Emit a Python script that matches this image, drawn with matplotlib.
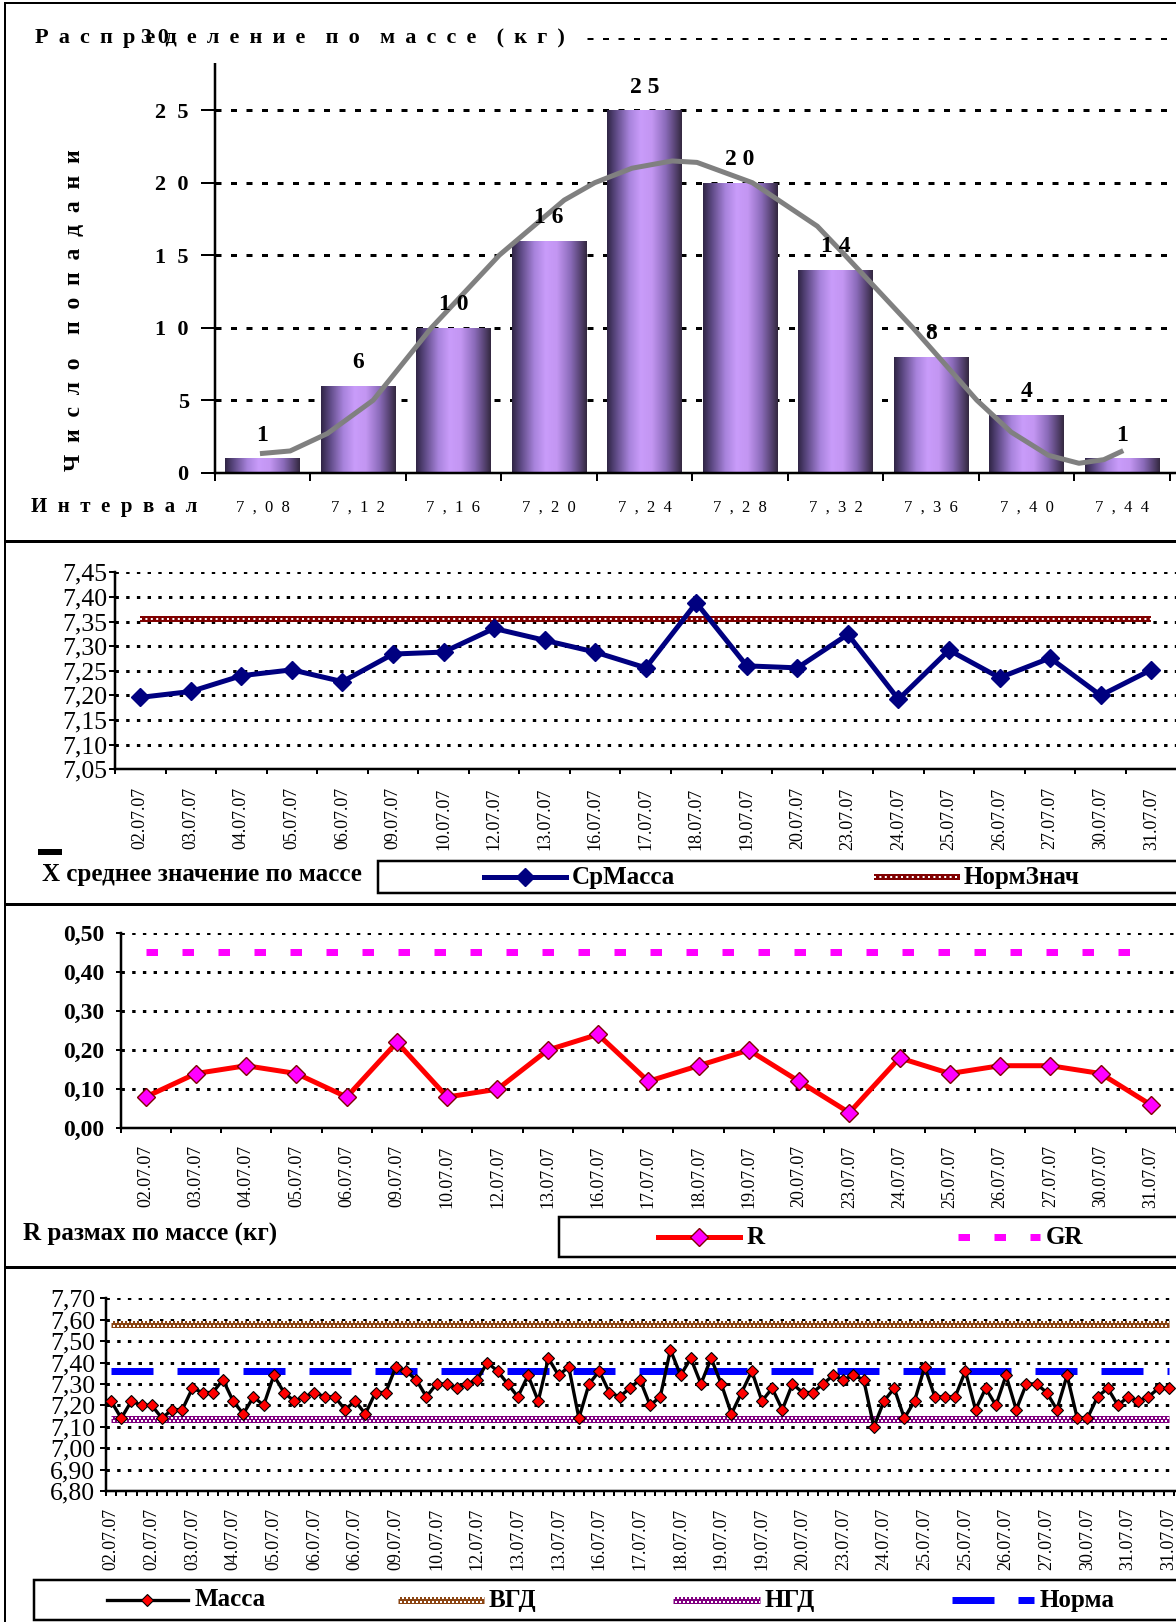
import numpy as np
import matplotlib.pyplot as plt
from matplotlib.colors import LinearSegmentedColormap
from matplotlib.lines import Line2D
from matplotlib.patches import Rectangle
from matplotlib.transforms import offset_copy

plt.rcParams['font.family'] = ['Liberation Serif', 'DejaVu Serif']
plt.rcParams['lines.scale_dashes'] = False

W, H = 1176, 1622
PT = 0.72  # пиксели -> пункты при dpi 100

# ---- данные ----
intervals = ['7,08', '7,12', '7,16', '7,20', '7,24', '7,28', '7,32', '7,36', '7,40', '7,44']
counts = [1, 6, 10, 16, 25, 20, 14, 8, 4, 1]
# сглаженная кривая (позиция в интервалах, значение)
curve_pos = [0.0, 0.29, 0.68, 1.16, 1.77, 2.48, 3.16, 3.48, 3.87, 4.29, 4.55,
             5.13, 5.81, 6.10, 6.81, 7.48, 7.84, 8.23, 8.55, 8.81, 8.99]
curve_val = [1.33, 1.5, 2.7, 5.0, 10.0, 15.0, 18.8, 20.0, 21.0, 21.5, 21.4,
             20.0, 17.0, 15.0, 10.0, 5.0, 2.8, 1.2, 0.65, 0.9, 1.45]

days = ['02.07.07', '03.07.07', '04.07.07', '05.07.07', '06.07.07', '09.07.07',
        '10.07.07', '12.07.07', '13.07.07', '16.07.07', '17.07.07', '18.07.07',
        '19.07.07', '20.07.07', '23.07.07', '24.07.07', '25.07.07', '26.07.07',
        '27.07.07', '30.07.07', '31.07.07']
mean_mass = [7.196, 7.208, 7.24, 7.252, 7.228, 7.284, 7.288, 7.336, 7.312, 7.288, 7.256,
             7.388, 7.26, 7.256, 7.324, 7.192, 7.292, 7.236, 7.276, 7.20, 7.252]
norm_mean = 7.356
r_range = [0.08, 0.14, 0.16, 0.14, 0.08, 0.22, 0.08, 0.10, 0.20, 0.24, 0.12,
           0.16, 0.20, 0.12, 0.04, 0.18, 0.14, 0.16, 0.16, 0.14, 0.06]
gr_value = 0.45

mass = [7.22, 7.14, 7.22, 7.20, 7.20, 7.14, 7.18, 7.18, 7.28, 7.26,
        7.26, 7.32, 7.22, 7.16, 7.24, 7.20, 7.34, 7.26, 7.22, 7.24,
        7.26, 7.24, 7.24, 7.18, 7.22, 7.16, 7.26, 7.26, 7.38, 7.36,
        7.32, 7.24, 7.30, 7.30, 7.28, 7.30, 7.32, 7.40, 7.36, 7.30,
        7.24, 7.34, 7.22, 7.42, 7.34, 7.38, 7.14, 7.30, 7.36, 7.26,
        7.24, 7.28, 7.32, 7.20, 7.24, 7.46, 7.34, 7.42, 7.30, 7.42,
        7.30, 7.16, 7.26, 7.36, 7.22, 7.28, 7.18, 7.30, 7.26, 7.26,
        7.30, 7.34, 7.32, 7.34, 7.32, 7.10, 7.22, 7.28, 7.14, 7.22,
        7.38, 7.24, 7.24, 7.24, 7.36, 7.18, 7.28, 7.20, 7.34, 7.18,
        7.30, 7.30, 7.26, 7.18, 7.34, 7.14, 7.14, 7.24, 7.28, 7.20,
        7.24, 7.22, 7.24, 7.28, 7.28]
per_day = 5
vgd = 7.58
ngd = 7.135
norma = 7.36


def spaced(s, gap=' '):
    # разрядка: слова через двойной промежуток
    return (gap * 2).join(gap.join(w) for w in s.split(' '))


def comma(v):
    return f'{v:.2f}'.replace('.', ',')


fig = plt.figure(figsize=(W / 100, H / 100), dpi=100)


def fx(px):
    return px / W


def fy(py):
    return 1 - py / H


def make_axes(left, right, top, bottom):
    ax = fig.add_axes([fx(left), fy(bottom), (right - left) / W, (bottom - top) / H])
    ax.spines['top'].set_visible(False)
    ax.spines['right'].set_visible(False)
    for s in ('left', 'bottom'):
        ax.spines[s].set_linewidth(2.5 * PT)
    ax.set_axisbelow(True)
    return ax


def grid_lines(ax, values, on, off):
    for v in values:
        ax.axhline(v, color='black', lw=3 * PT, ls=(0, (on * PT, off * PT)), zorder=0.5)


def cat_ticks(ax, n, pos, labels, pad, size, rot, tick_len=5):
    ax.set_xticks(np.arange(-0.5, n, 1), minor=True)
    ax.set_xticks(pos, labels, rotation=rot, fontsize=size)
    ax.tick_params(axis='x', which='major', length=0, pad=pad * PT)
    ax.tick_params(axis='x', which='minor', length=tick_len * PT, width=2 * PT, direction='out')


def checker(add, xs, ys, color, trans, lw=7, zorder=3, cell=2.0):
    add(Line2D(xs, ys, color=color, lw=lw * PT, solid_capstyle='butt',
               transform=trans, zorder=zorder))
    for dy, ph in ((1.75, 0), (-1.75, cell)):
        t = offset_copy(trans, fig=fig, y=dy, units='dots')
        add(Line2D(xs, ys, color='white', lw=2 * PT, transform=t, zorder=zorder,
                   ls=(ph * PT, (cell * PT, cell * PT)), dash_capstyle='butt'))


def chain(add, xs, ys, trans, zorder=3):
    add(Line2D(xs, ys, color='#800000', lw=6 * PT, solid_capstyle='butt',
               transform=trans, zorder=zorder))
    add(Line2D(xs, ys, color='white', lw=2 * PT, transform=trans, zorder=zorder,
               ls=(0, (2 * PT, 3.4 * PT)), dash_capstyle='butt'))


def fig_line(x0, x1, y, **kw):
    fig.add_artist(Line2D([fx(x0), fx(x1)], [fy(y), fy(y)], transform=fig.transFigure, **kw))


def legend_box(x0, y0, x1, y1):
    fig.add_artist(Rectangle((fx(x0), fy(y1)), (x1 - x0) / W, (y1 - y0) / H,
                             transform=fig.transFigure, facecolor='white',
                             edgecolor='black', lw=2.5 * PT, zorder=1))


def ftext(x, y, s, size=17, weight='bold', **kw):
    kw.setdefault('ha', 'left')
    kw.setdefault('va', 'center')
    fig.text(fx(x), fy(y), s, fontsize=size, fontweight=weight, zorder=4, **kw)


# ---------- 1. гистограмма ----------
ax1 = make_axes(214.7, 1176, 37.7, 472.7)
bar_cmap = LinearSegmentedColormap.from_list('bar', [
    (0, '#2f2545'), (0.12, '#5e4a85'), (0.3, '#a883dc'), (0.45, '#c99cfa'),
    (0.6, '#c396f2'), (0.78, '#8c6cbb'), (0.92, '#54416f'), (1, '#33283f')])
grad = np.linspace(0, 1, 256).reshape(1, -1)
for i, c in enumerate(counts):
    ax1.imshow(grad, extent=(i - 0.39, i + 0.39, 0, c), aspect='auto', cmap=bar_cmap,
               zorder=2, interpolation='bilinear')
    ax1.annotate(spaced(str(c)), (i, c), xytext=(0, 9), textcoords='offset points',
                 ha='center', va='bottom', fontsize=17, fontweight='bold', zorder=4)
ax1.plot(curve_pos, curve_val, color='#808080', lw=5 * PT, zorder=3,
         solid_joinstyle='round')
grid_lines(ax1, [5, 10, 15, 20, 25, 30], 6, 9.5)
ax1.set_xlim(-0.5, 9.5 + (1176 - 1169.7) / 95.5)
ax1.set_ylim(0, 30)
cat_ticks(ax1, len(counts), range(len(counts)), [spaced(s, '  ') for s in intervals],
          27, 12, 0, tick_len=8)
yt = [0, 5, 10, 15, 20, 25, 30]
ax1.set_yticks(yt, [spaced(str(v), '  ') if v < 30 else '' for v in yt],
               fontsize=16, fontweight='bold')
ax1.tick_params(axis='y', length=14 * PT, width=2 * PT, pad=12 * PT)

# заголовок поверх верхней части оси
fig.add_artist(Rectangle((fx(20), fy(63)), (580 - 20) / W, (63 - 12) / H,
                         transform=fig.transFigure, facecolor='white',
                         edgecolor='none', zorder=1))
ftext(35, 38, spaced('Распределение по массе (кг)', ' \u2009'), size=16)
ftext(155, 38, '3 0', size=16, ha='center')
ftext(75, 310, spaced('Число попадани', '  '), size=17, rotation=90, ha='center')
ftext(31, 507, spaced('Интервал', '  '), size=15)

# ---------- 2. среднее значение ----------
ax2 = make_axes(115, 1176.5, 572.3, 769.3)
x_days = np.arange(len(days))
grid_lines(ax2, np.arange(7.10, 7.451, 0.05), 3.4, 7.3)
chain(ax2.add_line, [0, len(days) - 1], [norm_mean, norm_mean], ax2.transData)
ax2.plot(x_days, mean_mass, color='#000080', lw=5 * PT, marker='D', ms=13 * PT,
         zorder=4)
ax2.set_xlim(-0.5, len(days) - 0.5)
ax2.set_ylim(7.05, 7.45)
yt = np.arange(7.05, 7.451, 0.05)
ax2.set_yticks(yt, [comma(v) for v in yt], fontsize=18.5)
ax2.tick_params(axis='y', length=6 * PT, width=2 * PT, pad=2 * PT)
cat_ticks(ax2, len(days), x_days, days, 18, 13, 90)

fig.add_artist(Rectangle((fx(38), fy(855)), 24 / W, 6 / H, transform=fig.transFigure,
                         facecolor='black', edgecolor='none', zorder=3))
ftext(42, 874, 'X среднее значение по массе', size=18)
legend_box(378, 861, 1180, 893)
fig_line(484, 566, 877, color='#000080', lw=5 * PT)
fig.add_artist(Line2D([fx(525)], [fy(877)], transform=fig.transFigure, ls='none',
                      marker='D', ms=13 * PT, color='#000080'))
ftext(572, 877, 'СрМасса', size=18)
chain(fig.add_artist, [fx(874), fx(960)], [fy(877), fy(877)], fig.transFigure)
ftext(964, 877, 'НормЗнач', size=18)

# ---------- 3. размах ----------
ax3 = make_axes(120.5, 1176, 932.7, 1128.3)
grid_lines(ax3, [0.1, 0.2, 0.3, 0.4, 0.5], 3.4, 7.3)
ax3.plot([0, len(days) - 1], [gr_value, gr_value], color='#FF00FF', lw=7 * PT,
         ls=(0, (11.5 * PT, 24.5 * PT)), dash_capstyle='butt', zorder=3)
ax3.plot(x_days, r_range, color='#FF0000', lw=5 * PT, marker='D', ms=12.5 * PT,
         mfc='#FF00FF', mec='#800000', mew=1, zorder=4)
ax3.set_xlim(-0.5, len(days) - 0.5)
ax3.set_ylim(0, 0.5)
yt = np.arange(0, 0.51, 0.1)
ax3.set_yticks(yt, [comma(v) for v in yt], fontsize=17, fontweight='bold')
ax3.tick_params(axis='y', length=5.5 * PT, width=2 * PT, pad=11 * PT)
cat_ticks(ax3, len(days), x_days, days, 17, 13, 90)

ftext(23, 1234, 'R размах по массе (кг)', size=18)
legend_box(559, 1217, 1180, 1257)
fig_line(658, 740, 1237, color='#FF0000', lw=5 * PT)
fig.add_artist(Line2D([fx(699)], [fy(1237)], transform=fig.transFigure, ls='none',
                      marker='D', ms=12.5 * PT, mfc='#FF00FF', mec='#800000', mew=1))
ftext(747, 1237, 'R', size=18)
fig_line(958, 1040, 1237, color='#FF00FF', lw=7 * PT,
         ls=(0, (11.5 * PT, 24.5 * PT)), dash_capstyle='butt')
ftext(1046, 1237, 'GR', size=18)

# ---------- 4. масса по пробам ----------
ax4 = make_axes(106, 1176, 1298.3, 1491)
n = len(mass)
xm = np.arange(n)
grid_lines(ax4, np.arange(6.9, 7.71, 0.1), 3.4, 7.3)
checker(ax4.add_line, [0, n - 1], [vgd, vgd], '#8B4513', ax4.transData)
checker(ax4.add_line, [0, n - 1], [ngd, ngd], '#800080', ax4.transData)
ax4.plot([0, n - 1], [norma, norma], color='#0000FF', lw=7 * PT,
         ls=(0, (42 * PT, 24 * PT)), dash_capstyle='butt', zorder=3)
ax4.plot(xm, mass, color='black', lw=3.3 * PT, marker='D', ms=8 * PT, mfc='#FF0000',
         mec='black', mew=0.8, zorder=5)
ax4.set_xlim(-0.5, -0.5 + (1176 - 106) / 10.17)
ax4.set_ylim(6.8, 7.7)
yt = np.arange(6.8, 7.71, 0.1)
ax4.set_yticks(yt, [comma(v) for v in yt], fontsize=18.5)
ax4.tick_params(axis='y', length=6 * PT, width=2 * PT, pad=5 * PT)
lab_pos = xm[::4]
cat_ticks(ax4, n, lab_pos, [days[i // per_day] for i in lab_pos], 17, 13, 90)

legend_box(34, 1580, 1180, 1620)
fig_line(107, 187.5, 1600, color='black', lw=3.3 * PT)
fig.add_artist(Line2D([fx(147)], [fy(1600)], transform=fig.transFigure, ls='none',
                      marker='D', ms=8 * PT, mfc='#FF0000', mec='black', mew=0.8))
ftext(195, 1600, 'Масса', size=18)
checker(fig.add_artist, [fx(398), fx(484)], [fy(1600), fy(1600)], '#8B4513', fig.transFigure)
ftext(489, 1600, 'ВГД', size=18)
checker(fig.add_artist, [fx(673), fx(760)], [fy(1600), fy(1600)], '#800080', fig.transFigure)
ftext(765, 1600, 'НГД', size=18)
fig_line(952, 1034, 1600, color='#0000FF', lw=7 * PT,
         ls=(0, (42 * PT, 24 * PT)), dash_capstyle='butt')
ftext(1040, 1600, 'Норма', size=18)

# ---------- рамки ----------
fig_line(5, 1176, 3, color='black', lw=2 * PT)
fig.add_artist(Line2D([fx(5), fx(5)], [fy(3), fy(1622)], transform=fig.transFigure,
                      color='black', lw=2 * PT))
for y in (541, 904, 1267):
    fig_line(5, 1176, y, color='black', lw=3 * PT)

fig.savefig('out.png', dpi=100, facecolor='white')
